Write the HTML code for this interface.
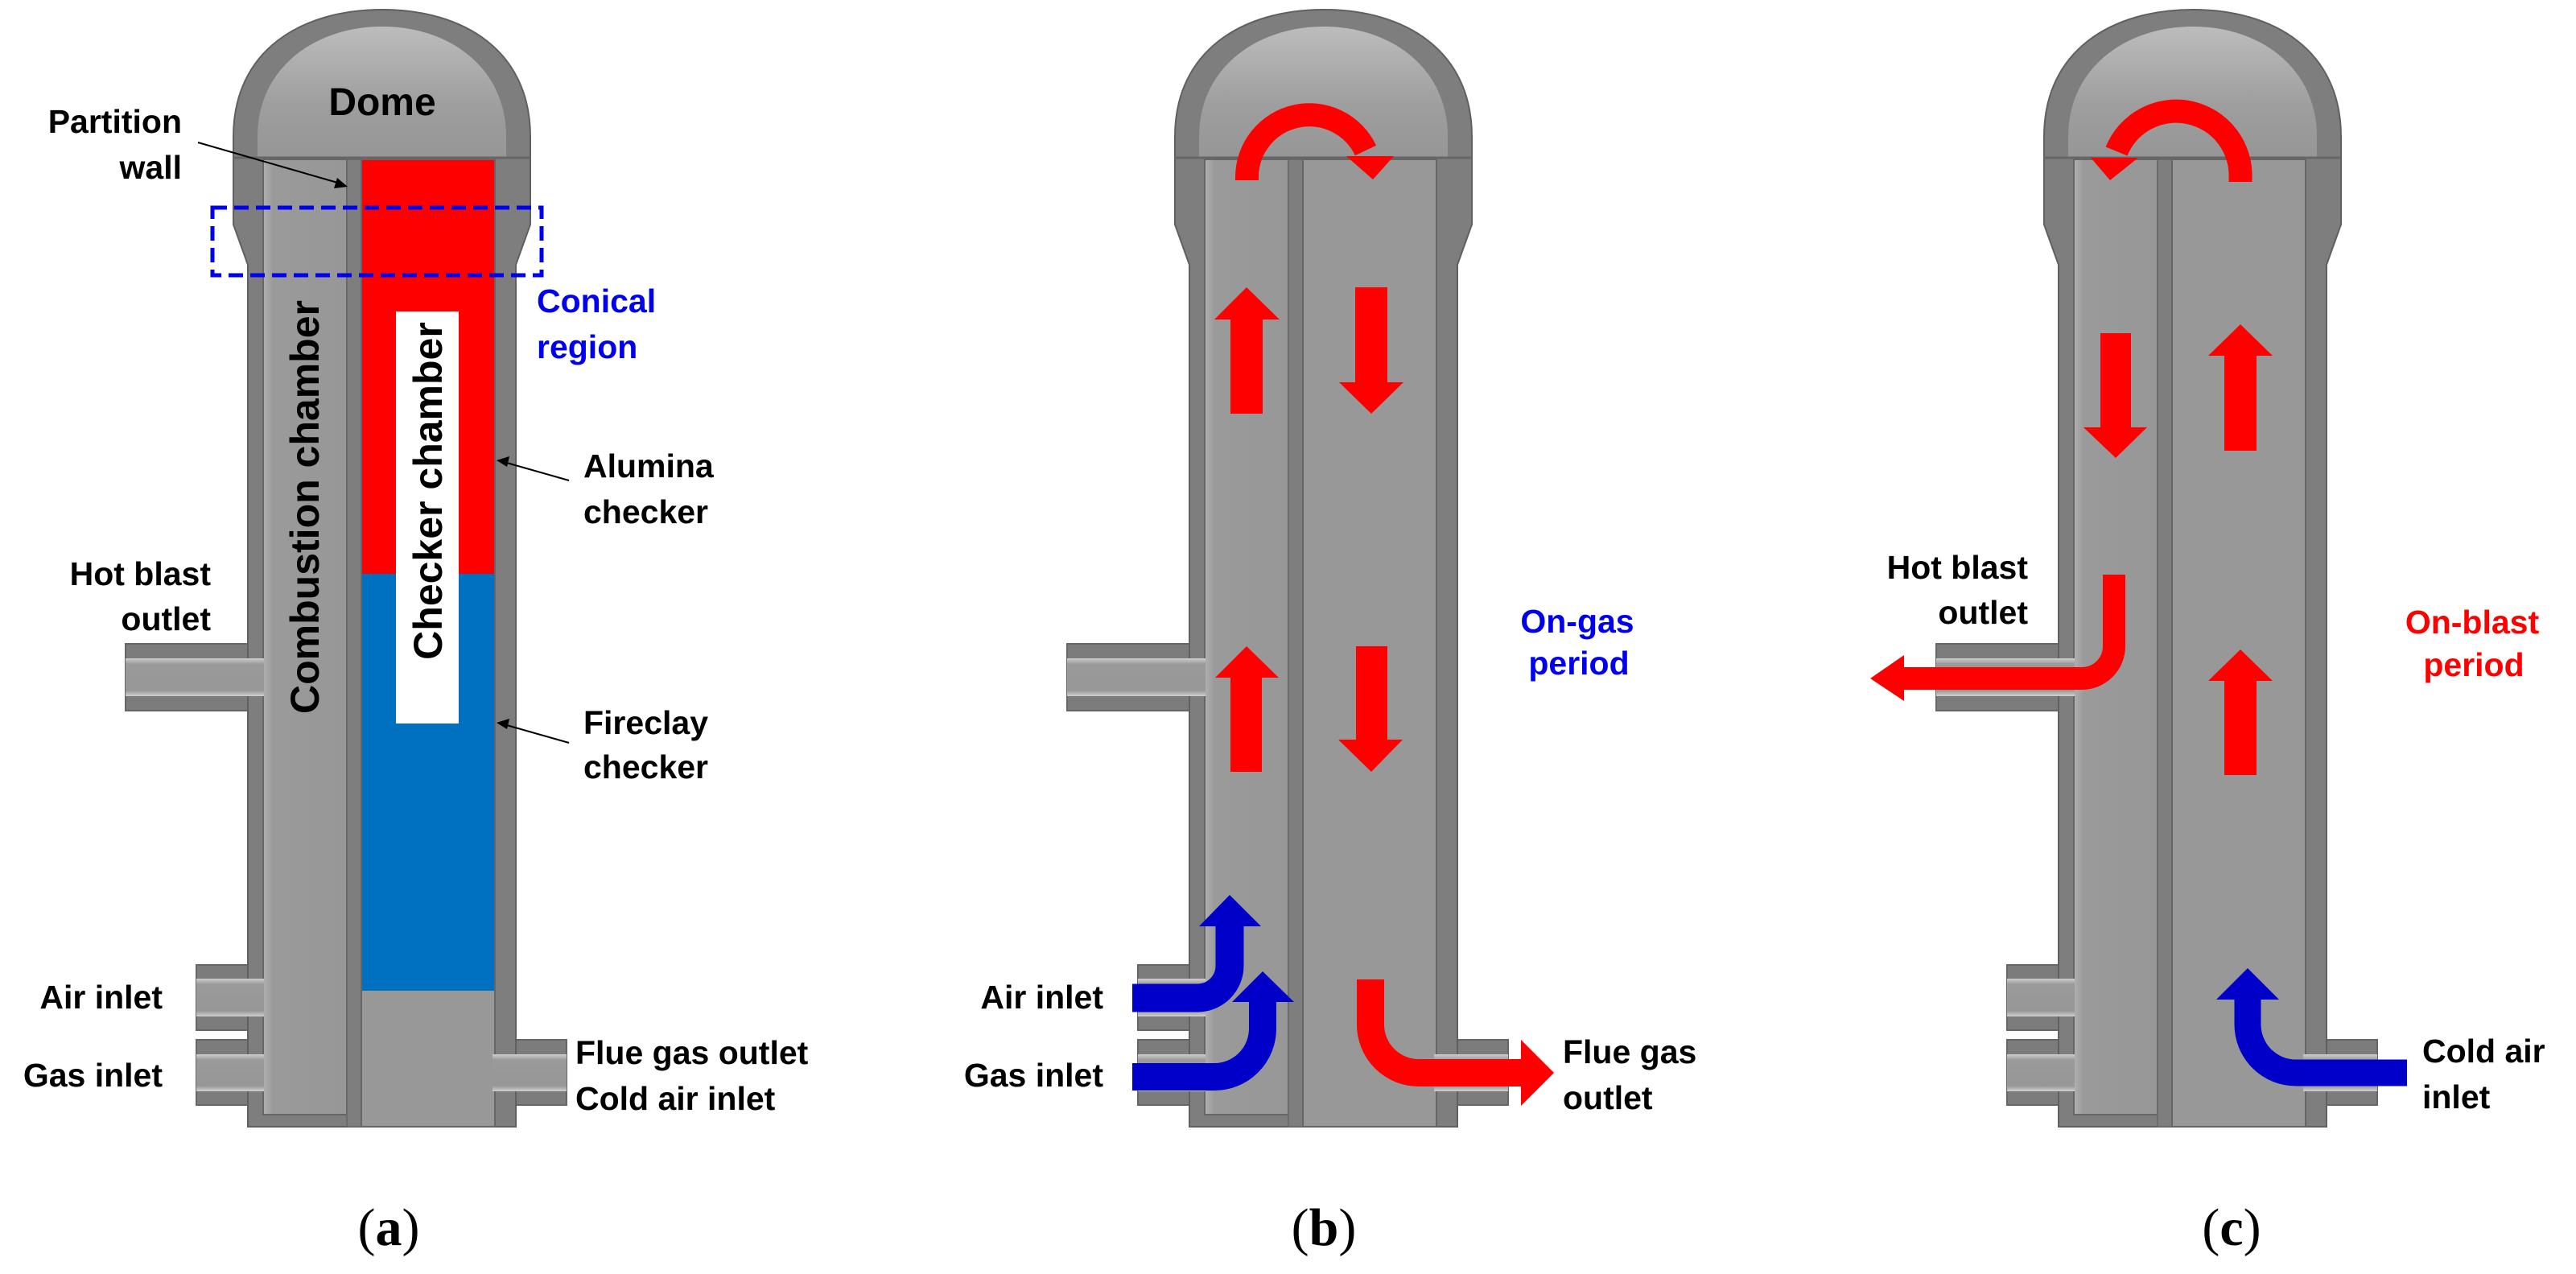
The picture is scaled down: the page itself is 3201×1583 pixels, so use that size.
<!DOCTYPE html>
<html><head><meta charset="utf-8">
<style>
html,body{margin:0;padding:0;background:#fff;}
svg{display:block;}
text{font-family:"Liberation Sans",Arial,sans-serif;font-weight:bold;}
.lb{font-size:41px;fill:#000;}
.cap{font-family:"Liberation Serif",serif;font-weight:normal;font-size:66px;fill:#000;}
</style></head>
<body>
<svg width="3201" height="1583" viewBox="0 0 3201 1583" xmlns="http://www.w3.org/2000/svg">
<defs>
<linearGradient id="dome" x1="0" y1="0" x2="0" y2="1">
<stop offset="0" stop-color="#bcbcbc"/><stop offset="0.6" stop-color="#9e9e9e"/><stop offset="1" stop-color="#969696"/>
</linearGradient>
<linearGradient id="bore" x1="0" y1="0" x2="0" y2="1">
<stop offset="0" stop-color="#cfcfcf"/><stop offset="0.15" stop-color="#9a9a9a"/><stop offset="0.85" stop-color="#979797"/><stop offset="1" stop-color="#d0d0d0"/>
</linearGradient>
<linearGradient id="comb" x1="0" y1="0" x2="1" y2="0">
<stop offset="0" stop-color="#b0b0b0"/><stop offset="0.12" stop-color="#9a9a9a"/><stop offset="1" stop-color="#979797"/>
</linearGradient>
<g id="stove">
  <rect x="156" y="800" width="160" height="83" fill="#7c7c7c" stroke="#666" stroke-width="2"/>
  <rect x="156" y="818" width="172" height="47" fill="url(#bore)"/>
  <rect x="244" y="1199" width="72" height="81" fill="#7c7c7c" stroke="#666" stroke-width="2"/>
  <rect x="244" y="1216" width="84" height="47" fill="url(#bore)"/>
  <rect x="244" y="1292" width="72" height="81" fill="#7c7c7c" stroke="#666" stroke-width="2"/>
  <rect x="244" y="1310" width="84" height="46" fill="url(#bore)"/>
  <rect x="634" y="1292" width="70" height="81" fill="#7c7c7c" stroke="#666" stroke-width="2"/>
  <rect x="612" y="1310" width="92" height="46" fill="url(#bore)"/>
  <path d="M308,1400 V329 L290,279 V170 C290,62 375,12 475,12 C575,12 659,62 659,170 V279 L641,329 V1400 Z" fill="#7e7e7e" stroke="#606060" stroke-width="2"/>
  <path d="M320,196 V170 C320,84 392,33 475,33 C558,33 629,84 629,170 V196 Z" fill="url(#dome)"/>
  <line x1="290" y1="196" x2="659" y2="196" stroke="#666" stroke-width="3"/>
  <rect x="327" y="198" width="104" height="1187" fill="url(#comb)" stroke="#666" stroke-width="2"/>
  <rect x="431" y="198" width="18" height="1202" fill="#7e7e7e" stroke="#666" stroke-width="1.5"/>
  <rect x="449" y="198" width="166" height="1202" fill="#989898" stroke="#666" stroke-width="2"/>
  <rect x="300" y="818" width="28" height="47" fill="url(#bore)"/>
  <rect x="300" y="1216" width="28" height="47" fill="url(#bore)"/>
  <rect x="300" y="1310" width="28" height="46" fill="url(#bore)"/>
  <rect x="612" y="1310" width="40" height="46" fill="url(#bore)"/>
</g>
</defs>

<!-- Panel a -->
<use href="#stove"/>
<rect x="450" y="199" width="164" height="514" fill="#ff0000"/>
<rect x="450" y="713" width="164" height="518" fill="#0070c0"/>
<rect x="492" y="387" width="78" height="512" fill="#ffffff"/>
<text x="475" y="143" text-anchor="middle" style="font-size:48px">Dome</text>
<text class="lb" x="226" y="165" text-anchor="end">Partition</text>
<text class="lb" x="226" y="222" text-anchor="end">wall</text>
<line x1="246" y1="177" x2="423" y2="228" stroke="#000" stroke-width="2"/>
<polygon points="432,232 415,234 419,221" fill="#000"/>
<rect x="264" y="258" width="409" height="84" fill="none" stroke="#0000ee" stroke-width="5" stroke-dasharray="18,9"/>
<text class="lb" x="667" y="388" style="fill:#0000ee">Conical</text>
<text class="lb" x="667" y="445" style="fill:#0000ee">region</text>
<text x="0" y="0" transform="translate(396,630) rotate(-90)" text-anchor="middle" style="font-size:50px">Combustion chamber</text>
<text x="0" y="0" transform="translate(549,610) rotate(-90)" text-anchor="middle" style="font-size:50px">Checker chamber</text>
<text class="lb" x="725" y="593">Alumina</text>
<text class="lb" x="725" y="650">checker</text>
<line x1="707" y1="597" x2="626" y2="574" stroke="#000" stroke-width="2"/>
<polygon points="617,572 633,567 630,580" fill="#000"/>
<text class="lb" x="725" y="912">Fireclay</text>
<text class="lb" x="725" y="967">checker</text>
<line x1="707" y1="923" x2="626" y2="900" stroke="#000" stroke-width="2"/>
<polygon points="617,898 633,893 630,906" fill="#000"/>
<text class="lb" x="262" y="727" text-anchor="end">Hot blast</text>
<text class="lb" x="262" y="783" text-anchor="end">outlet</text>
<text class="lb" x="202" y="1253" text-anchor="end">Air inlet</text>
<text class="lb" x="202" y="1350" text-anchor="end">Gas inlet</text>
<text class="lb" x="715" y="1322">Flue gas outlet</text>
<text class="lb" x="715" y="1379">Cold air inlet</text>
<text class="cap" x="483" y="1547" text-anchor="middle">(<tspan font-weight="bold">a</tspan>)</text>

<!-- Panel b -->
<use href="#stove" transform="translate(1170,0)"/>
<path d="M1549.5,224 V220 A77.5,77.5 0 0 1 1697,187" fill="none" stroke="#ff0000" stroke-width="29"/>
<polygon points="1673,194 1732,194 1706,223" fill="#ff0000"/>
<polygon points="1529,514 1569,514 1569,397 1590,397 1549,357 1509,397 1529,397" fill="#ff0000"/>
<polygon points="1684,357 1724,357 1724,475 1744,475 1704,514 1664,475 1684,475" fill="#ff0000"/>
<polygon points="1529,959 1568,959 1568,842 1589,842 1549,803 1510,842 1529,842" fill="#ff0000"/>
<polygon points="1685,803 1724,803 1724,919 1743,919 1704,959 1663,919 1685,919" fill="#ff0000"/>
<path d="M1407,1240 H1488 A40,40 0 0 0 1528,1200 V1150" fill="none" stroke="#0000c8" stroke-width="35"/>
<polygon points="1490,1151 1567,1151 1528,1112" fill="#0000c8"/>
<path d="M1407,1338 H1509 A60,60 0 0 0 1569,1278 V1244" fill="none" stroke="#0000c8" stroke-width="34"/>
<polygon points="1531,1245 1608,1245 1569,1207" fill="#0000c8"/>
<path d="M1703,1217 V1273 A60,60 0 0 0 1763,1333 H1891" fill="none" stroke="#ff0000" stroke-width="34"/>
<polygon points="1890,1292 1890,1374 1931,1333" fill="#ff0000"/>
<text class="lb" x="1960" y="786" text-anchor="middle" style="fill:#0000ee">On-gas</text>
<text class="lb" x="1962" y="838" text-anchor="middle" style="fill:#0000ee">period</text>
<text class="lb" x="1371" y="1253" text-anchor="end">Air inlet</text>
<text class="lb" x="1371" y="1350" text-anchor="end">Gas inlet</text>
<text class="lb" x="1942" y="1321">Flue gas</text>
<text class="lb" x="1942" y="1378">outlet</text>
<text class="cap" x="1645" y="1547" text-anchor="middle">(<tspan font-weight="bold">b</tspan>)</text>

<!-- Panel c -->
<use href="#stove" transform="translate(2250,0)"/>
<path d="M2784,226 V222 A80,80 0 0 0 2630,188" fill="none" stroke="#ff0000" stroke-width="29"/>
<polygon points="2598,196 2657,196 2622,224" fill="#ff0000"/>
<polygon points="2610,414 2648,414 2648,531 2668,531 2629,569 2589,531 2610,531" fill="#ff0000"/>
<polygon points="2764,560 2804,560 2804,442 2824,442 2784,403 2744,442 2764,442" fill="#ff0000"/>
<polygon points="2764,963 2804,963 2804,846 2824,846 2784,807 2744,846 2764,846" fill="#ff0000"/>
<path d="M2627,714 V803 A40,40 0 0 1 2587,843 H2365" fill="none" stroke="#ff0000" stroke-width="28"/>
<polygon points="2366,814 2366,871 2324,843" fill="#ff0000"/>
<path d="M2991,1333 H2853 A60,60 0 0 1 2793,1273 V1241" fill="none" stroke="#0000c8" stroke-width="33"/>
<polygon points="2754,1242 2832,1242 2793,1203" fill="#0000c8"/>
<text class="lb" x="2520" y="719" text-anchor="end">Hot blast</text>
<text class="lb" x="2520" y="775" text-anchor="end">outlet</text>
<text class="lb" x="3072" y="787" text-anchor="middle" style="fill:#ff0000">On-blast</text>
<text class="lb" x="3074" y="840" text-anchor="middle" style="fill:#ff0000">period</text>
<text class="lb" x="3010" y="1320">Cold air</text>
<text class="lb" x="3010" y="1377">inlet</text>
<text class="cap" x="2773" y="1547" text-anchor="middle">(<tspan font-weight="bold">c</tspan>)</text>
</svg>
</body></html>
